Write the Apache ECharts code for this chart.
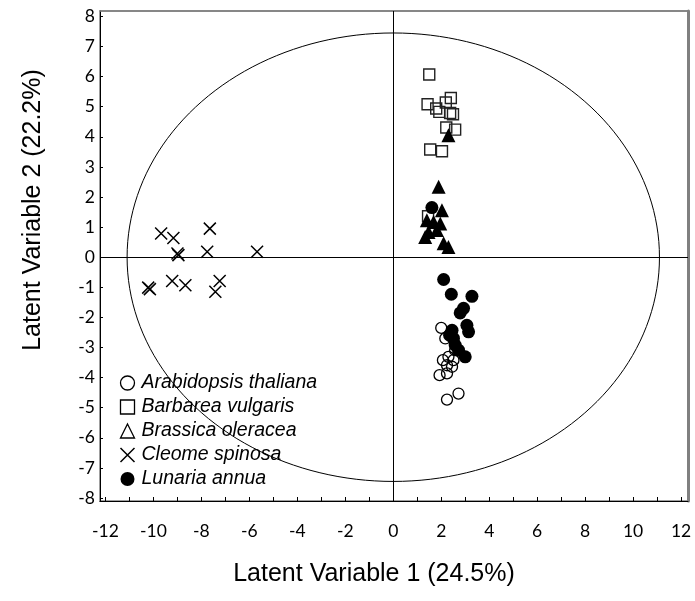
<!DOCTYPE html>
<html>
<head>
<meta charset="utf-8">
<script src="https://cdn.jsdelivr.net/npm/echarts@6/dist/echarts.min.js"></script>
<style>
html,body{margin:0;padding:0;background:#fff;}
#chart{width:695px;height:601px;}
</style>
</head>
<body>
<div id="chart"></div>
<script>
// ---- Data ----
const speciesNames = ['Arabidopsis thaliana','Barbarea vulgaris','Brassica oleracea','Cleome spinosa','Lunaria annua'];

const arabidopsis = [[2.00,-2.35],[2.17,-2.70],[2.58,-3.09],[2.30,-3.31],[2.51,-3.42],[2.07,-3.42],
  [2.24,-3.59],[2.45,-3.64],[1.93,-3.92],[2.24,-3.86],[2.24,-4.73],[2.72,-4.53]];
const barbarea = [[1.50,6.07],[1.43,5.08],[2.40,5.29],[1.79,4.94],[2.19,5.14],[1.92,4.83],[2.37,4.79],
  [2.49,4.75],[2.21,4.31],[2.58,4.24],[1.54,3.58],[2.03,3.52],[1.45,1.36]];
const brassica = [[2.30,4.05],[1.89,2.34],[2.03,1.56],[1.40,1.23],[1.68,1.17],[1.96,1.12],[1.47,0.84],
  [1.82,0.90],[1.33,0.67],[2.10,0.46],[2.30,0.34]];
const cleome = [[-9.68,0.79],[-9.17,0.64],[-7.65,0.95],[-9.00,0.12],[-8.96,0.07],[-7.76,0.18],[-5.68,0.18],
  [-10.22,-1.01],[-10.15,-1.06],[-9.22,-0.79],[-8.67,-0.93],[-7.24,-0.79],[-7.42,-1.15]];
const lunaria = [[1.61,1.65],[2.10,-0.74],[2.42,-1.23],[3.28,-1.30],[2.93,-1.70],[2.79,-1.85],[3.07,-2.26],
  [3.14,-2.48],[2.45,-2.43],[2.35,-2.59],[2.51,-2.70],[2.58,-2.92],[2.72,-3.09],[3.00,-3.31]];

const xTickLabels = [-12,-10,-8,-6,-4,-2,0,2,4,6,8,10,12];
const xTicks = [-12,-11,-10,-9,-8,-7,-6,-5,-4,-3,-2,-1,0,1,2,3,4,5,6,7,8,9,10,11,12];
const yTickLabels = [-8,-7,-6,-5,-4,-3,-2,-1,0,1,2,3,4,5,6,7,8];

// Confidence ellipse parameters (center and semi-axes)
const ellipseCenter = [0, 0];
const ellipseRadii = [11.1, 7.45];

const xTitle = 'Latent Variable 1 (24.5%)';
const yTitle = 'Latent Variable 2 (22.2%)';

// ---- Build ----
const ellipsePts = [];
for (let i = 0; i <= 360; i += 2) {
  const t = i * Math.PI / 180;
  ellipsePts.push([ellipseCenter[0] + ellipseRadii[0]*Math.cos(t), ellipseCenter[1] + ellipseRadii[1]*Math.sin(t)]);
}

const X_MIN = -12.23, X_MAX = 12.29, Y_MIN = -8.1, Y_MAX = 8.18;
const crossPath = 'path://M0,0L10,10M10,0L0,10';
const tickFont = 'Lato';
const titleFont = '"Liberation Sans", Arial, sans-serif';

const chart = echarts.init(document.getElementById('chart'), null, {renderer:'canvas'});
const option = {
  animation: false,
  backgroundColor: '#fff',
  grid: {left: 100, right: 7, top: 11, bottom: 100, show: true, borderColor: '#808080', borderWidth: 1.5, backgroundColor:'transparent'},
  xAxis: [{
    type: 'value', min: X_MIN, max: X_MAX, position: 'bottom',
    axisLine: {onZero: false, lineStyle: {color: '#000', width: 1}},
    axisTick: {inside: true, length: 4, customValues: xTicks, lineStyle:{color:'#000'}},
    axisLabel: {customValues: xTickLabels, margin: 21, color: '#000', fontSize: 17.5, fontFamily: tickFont},
    splitLine: {show: false}
  },{
    type: 'value', min: X_MIN, max: X_MAX, position: 'top',
    axisLine: {onZero: false, lineStyle: {color: '#808080', width: 1.5}},
    axisTick: {show: false}, axisLabel: {show: false}, splitLine: {show: false}
  }],
  yAxis: [{
    type: 'value', min: Y_MIN, max: Y_MAX, position: 'left',
    axisLine: {onZero: false, lineStyle: {color: '#000', width: 1}},
    axisTick: {inside: true, length: 3, customValues: yTickLabels, lineStyle:{color:'#000'}},
    axisLabel: {customValues: yTickLabels, margin: 5, color: '#000', fontSize: 17.5, fontFamily: tickFont},
    splitLine: {show: false}
  },{
    type: 'value', min: Y_MIN, max: Y_MAX, position: 'right',
    axisLine: {onZero: false, lineStyle: {color: '#808080', width: 3}},
    axisTick: {show: false}, axisLabel: {show: false}, splitLine: {show: false}
  }],
  legend: {
    orient: 'vertical', left: 113, top: 368, itemGap: 4,
    itemWidth: 14, itemHeight: 14,
    textStyle: {fontSize: 19.5, fontStyle: 'italic', color: '#000', fontFamily: titleFont, lineHeight: 20, padding:[0,0,0,2]},
    data: [
      {name: speciesNames[0], icon: 'circle', itemStyle: {color: 'rgba(0,0,0,0)', borderColor: '#000', borderWidth: 1.3}},
      {name: speciesNames[1], icon: 'rect', itemStyle: {color: 'rgba(0,0,0,0)', borderColor: '#000', borderWidth: 1.3}},
      {name: speciesNames[2], icon: 'triangle', itemStyle: {color: 'rgba(0,0,0,0)', borderColor: '#000', borderWidth: 1.3}},
      {name: speciesNames[3], icon: crossPath, itemStyle: {color: 'none', borderColor: '#000', borderWidth: 1.5}},
      {name: speciesNames[4], icon: 'circle', itemStyle: {color: '#000', borderWidth: 0}}
    ]
  },
  graphic: [
    {type: 'text', x: 374, y: 574, style: {text: xTitle, align: 'center', verticalAlign: 'middle', fontSize: 25, fontFamily: titleFont, fill: '#000'}},
    {type: 'text', x: 33, y: 210, rotation: Math.PI/2, style: {text: yTitle, align: 'center', verticalAlign: 'middle', fontSize: 25, fontFamily: titleFont, fill: '#000'}}
  ],
  series: [
    {name: 'ellipse', type: 'line', data: ellipsePts, showSymbol: false, symbol: 'none', silent: true,
     lineStyle: {color: '#000', width: 1}, z: 1,
     markLine: {silent: true, symbol: 'none', label: {show: false},
       lineStyle: {color: '#000', width: 1, type: 'solid'},
       data: [{xAxis: 0}, {yAxis: 0}]}},
    {name: speciesNames[0], type: 'scatter', data: arabidopsis, symbol: 'circle', symbolSize: 11,
     itemStyle: {color: 'rgba(0,0,0,0)', borderColor: '#000', borderWidth: 1.3, opacity: 1}, z: 3},
    {name: speciesNames[1], type: 'scatter', data: barbarea, symbol: 'rect', symbolSize: 11,
     itemStyle: {color: 'rgba(0,0,0,0)', borderColor: '#222', borderWidth: 1.4, opacity: 1}, z: 3},
    {name: speciesNames[2], type: 'scatter', data: brassica, symbol: 'triangle', symbolSize: [14, 14],
     itemStyle: {color: '#000', opacity: 1}, z: 4},
    {name: speciesNames[3], type: 'scatter', data: cleome, symbol: crossPath, symbolSize: 12,
     itemStyle: {color: 'none', borderColor: '#000', borderWidth: 1.5, opacity: 1}, z: 3},
    {name: speciesNames[4], type: 'scatter', data: lunaria, symbol: 'circle', symbolSize: 13,
     itemStyle: {color: '#000', opacity: 1}, z: 5}
  ]
};
chart.setOption(option);
</script>
</body>
</html>
